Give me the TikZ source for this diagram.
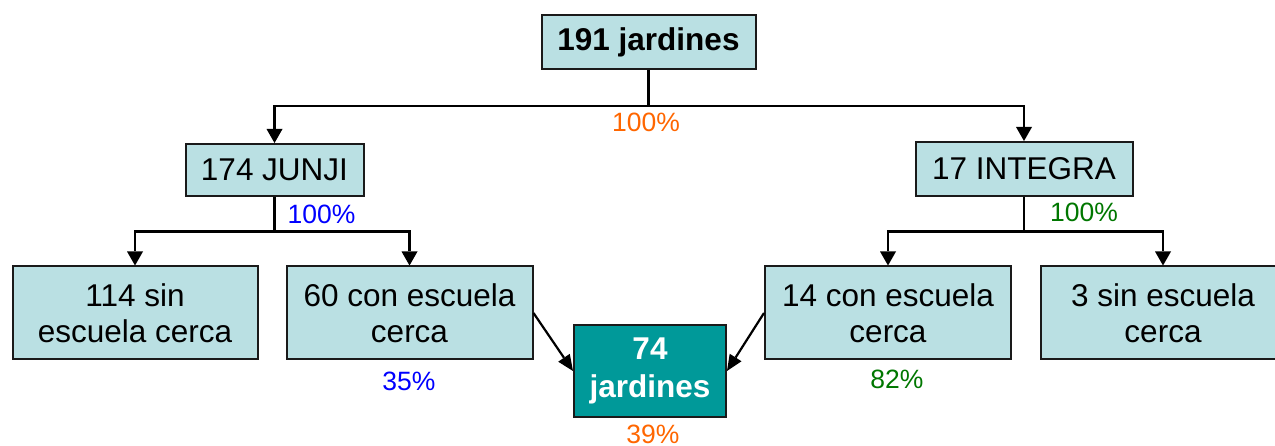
\documentclass[tikz,border=0pt]{standalone}
\usepackage{fontspec}
\setmainfont{Liberation Sans}
\usetikzlibrary{arrows.meta}
\definecolor{boxfill}{HTML}{BAE0E3}
\definecolor{darkbox}{HTML}{009999}
\definecolor{borderc}{HTML}{1A1A1A}
\definecolor{pctorange}{HTML}{FF6600}
\definecolor{pctblue}{HTML}{0000FF}
\definecolor{pctgreen}{HTML}{007700}
\tikzset{
  box/.style={draw=borderc, line width=2pt, fill=boxfill, inner sep=0pt, align=center,
    font=\fontsize{31.5}{36}\selectfont, text=black},
  darkbx/.style={box, fill=darkbox, text=white, font=\fontsize{31.5}{38}\selectfont\bfseries},
  pct/.style={inner sep=0pt, font=\fontsize{26.5}{30}\selectfont},
  conn/.style={line width=2.2pt, draw=black},
  arr/.style={conn, -{Triangle[width=16pt,length=14pt,line width=0pt]}},
  darr/.style={conn, -{Triangle[width=14pt,length=16pt,line width=0pt]}}
}
\begin{document}
\begin{tikzpicture}[x=1pt,y=-1pt]
\useasboundingbox (0,0) rectangle (1275,446);
% nodes
\node[box, font=\fontsize{31.5}{36}\selectfont\bfseries, minimum width=214pt, minimum height=54pt] (top) at (648.5,42) {191 jardines};
\node[box, minimum width=178pt, minimum height=52pt] (junji) at (274.5,170) {174 JUNJI};
\node[box, minimum width=217pt, minimum height=54pt] (integra) at (1024,169) {17 INTEGRA};
\node[box, minimum width=245pt, minimum height=93pt] (sin114) at (135,313) {114 sin\\escuela cerca};
\node[box, minimum width=246pt, minimum height=93pt] (con60) at (409.5,313) {60 con escuela\\cerca};
\node[box, minimum width=246pt, minimum height=93pt] (con14) at (888,313) {14 con escuela\\cerca};
\node[box, minimum width=245pt, minimum height=93pt] (sin3) at (1163,313) {3 sin escuela\\cerca};
\node[darkbx, minimum width=152pt, minimum height=92pt] (j74) at (650,371) {74\\jardines};
% percentages
\node[pct, text=pctorange] (p1) at (646,122) {100\%};
\node[pct, text=pctblue] (p2) at (321.5,214) {100\%};
\node[pct, text=pctgreen] (p3) at (1084,212) {100\%};
\node[pct, text=pctblue] (p4) at (409,381) {35\%};
\node[pct, text=pctgreen] (p5) at (897,379) {82\%};
\node[pct, text=pctorange] (p6) at (653,434) {39\%};
% hubs
\coordinate (hub1) at (648.5,106);
\coordinate (hub2) at (274.5,231.5);
\coordinate (hub3) at (1024,231.5);
% connectors
\draw[conn] (top.south) -- (hub1);
\draw[arr] (hub1) -| (junji.north);
\draw[arr] (hub1) -| (integra.north);
\draw[conn] (junji.south) -- (hub2);
\draw[arr] (hub2) -| (sin114.north);
\draw[arr] (hub2) -| (con60.north);
\draw[conn] (integra.south) -- (hub3);
\draw[arr] (hub3) -| (con14.north);
\draw[arr] (hub3) -| (sin3.north);
\draw[darr] (con60.east) -- (j74.west);
\draw[darr] (con14.west) -- (j74.east);
\end{tikzpicture}
\end{document}
